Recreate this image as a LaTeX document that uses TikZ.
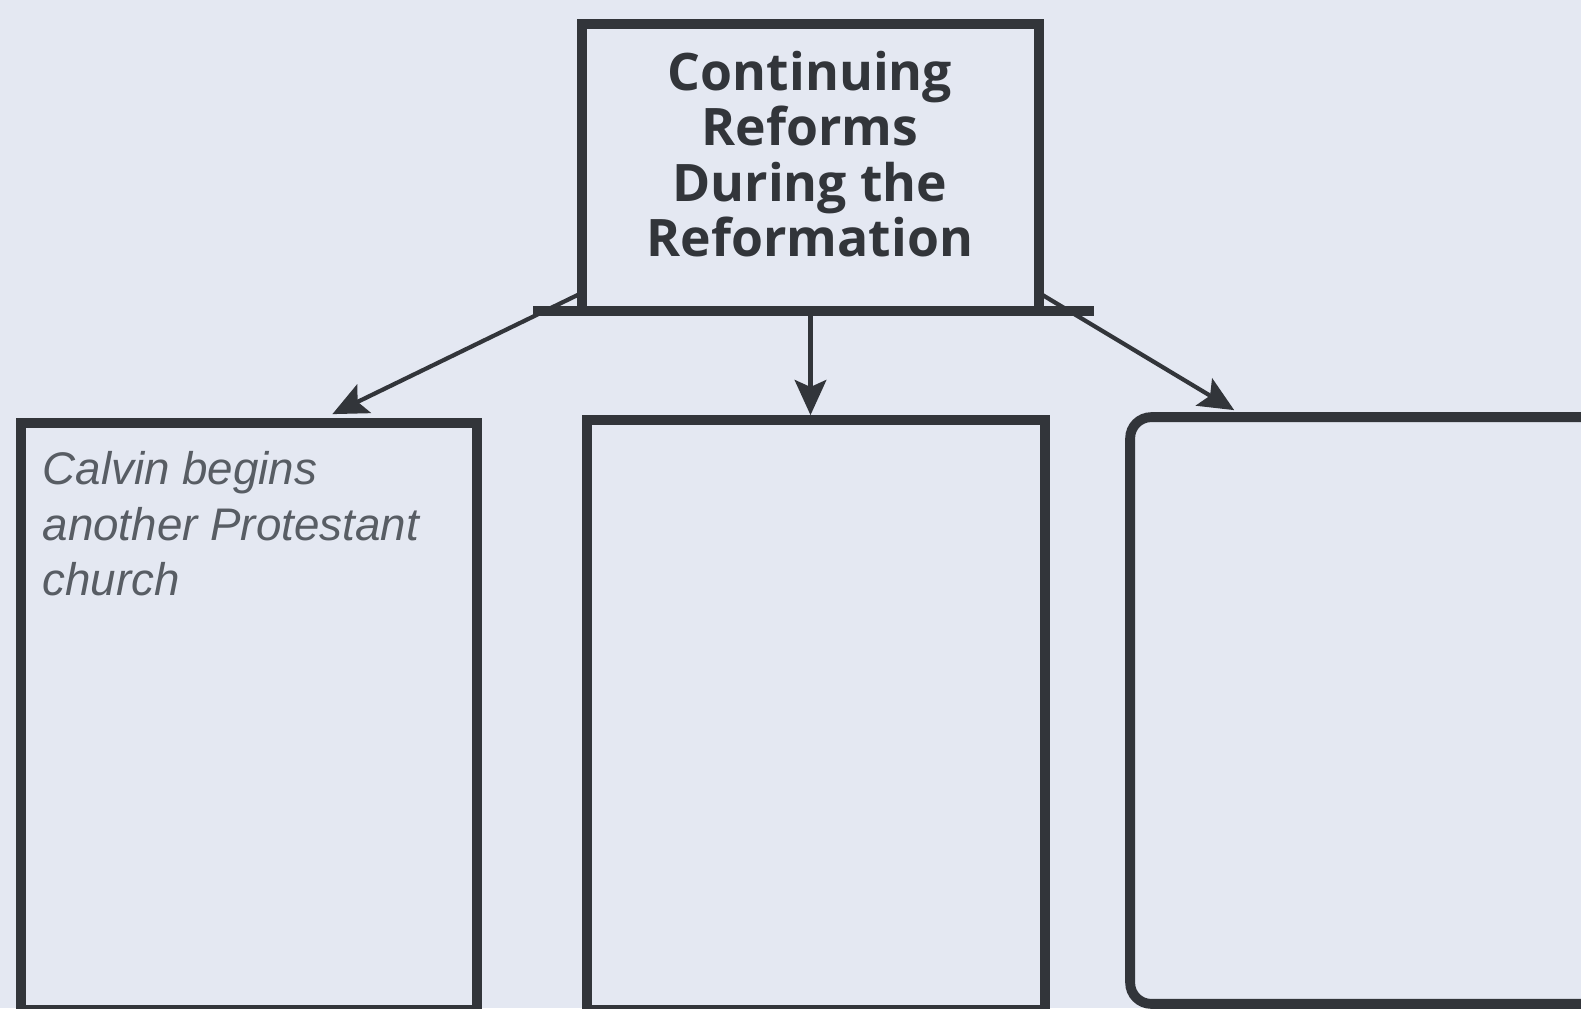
\documentclass[tikz,border=0pt]{standalone}
\usepackage{fontspec}
\setmainfont{Open Sans}
\newfontfamily\handfont{Liberation Sans}
\usetikzlibrary{arrows.meta}

\definecolor{paper}{RGB}{228,232,242}
\definecolor{ink}{RGB}{50,53,58}
\definecolor{pencil}{RGB}{88,93,100}

\tikzset{
  box/.style={draw=ink, line width=2.8pt},
  bar/.style={draw=ink, line width=2.8pt},
  pfeil/.style={color=ink, line width=1.2pt, -{Stealth[length=10pt,width=9pt,inset=2pt]}},
  titel/.style={font=\bfseries\fontsize{14.7}{15.8}\selectfont, text=ink, align=center},
  hand/.style={font=\handfont\itshape\fontsize{13}{15.7}\selectfont, text=pencil, align=left, inner sep=0pt},
}

\begin{document}
\begin{tikzpicture}[x=0.01cm,y=-0.01cm]
    % Hintergrund und Rahmen
    \fill[paper] (0,0) rectangle (1581,1008);
    \useasboundingbox (0,0) rectangle (1581,1008);
    \clip (0,0) rectangle (1581,1008);

    % Kaesten
    \node[minimum width=4.55cm, minimum height=2.85cm] (reforms) at (810.5,167.5) {};
    \node[titel] (reformstext) at (810,154) {Continuing\\Reforms\\During the\\Reformation};

    \node[minimum width=4.54cm, minimum height=5.85cm] (calvin) at (249,716.5) {};
    \node[minimum width=4.56cm, minimum height=5.88cm] (mid) at (816,715) {};
    \node[minimum width=4.89cm, minimum height=5.85cm] (right) at (1375.5,710.5) {};

    % Pfeile (unter Balken und Kaesten)
    \draw[pfeil] ([yshift=0.18cm]reforms.south west) -- ([xshift=3.11cm,yshift=0.09cm]calvin.north west);
    \draw[pfeil] (reforms.south) -- ([yshift=0.05cm]reforms.south |- mid.north);
    \draw[pfeil] ([yshift=0.18cm]reforms.south east) -- ([xshift=1.04cm,yshift=0.07cm]right.north west);

    % Rahmen zeichnen
    \draw[box] (reforms.south west) rectangle (reforms.north east);
    \draw[bar] ([xshift=-0.49cm]reforms.south west) -- ([xshift=0.55cm]reforms.south east);
    \draw[box] (calvin.south west) rectangle (calvin.north east);
    \draw[box] (mid.south west) rectangle (mid.north east);
    \draw[box, rounded corners=6pt] (right.south west) rectangle (right.north east);

    % Handschrift
    \node[hand, anchor=north west] (calvinnote) at (42,451) {Calvin begins\\another Protestant\\church};
\end{tikzpicture}
\end{document}
